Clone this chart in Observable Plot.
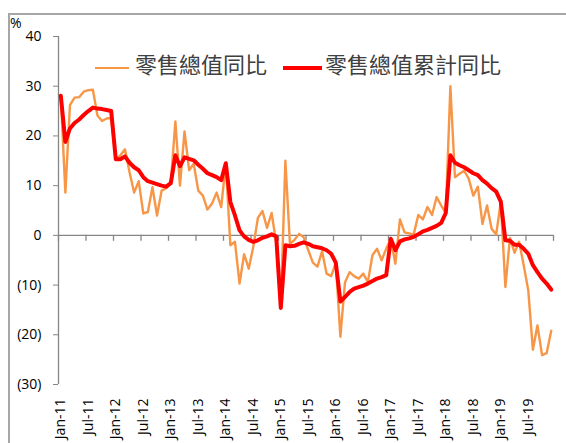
<!DOCTYPE html>
<html>
<head>
<meta charset="utf-8">
<script src="https://cdn.jsdelivr.net/npm/d3@7"></script>
<script src="https://cdn.jsdelivr.net/npm/@observablehq/plot@0.6"></script>
<style>
  html, body { margin: 0; padding: 0; background: #fff; }
  #wrap { position: relative; width: 566px; height: 443px; overflow: hidden; }
  #wrap svg { position: absolute; left: 0; top: 0; }
  .frame { position: absolute; left: 8px; top: 13px; right: -10px; bottom: -10px;
           border-top: 2px solid #a6a6a6; border-left: 2px solid #a6a6a6; pointer-events: none; }
  .unit { position: absolute; left: 10px; top: 13px; font: 14px "Open Sans", sans-serif; color: #000; }
  .leg { position: absolute; font: 22px/22px "Noto Sans CJK TC", sans-serif; color: #404040; white-space: nowrap; }
  .sw { position: absolute; }
</style>
</head>
<body>
<div id="wrap">
  <div class="frame"></div>
  <div class="unit">%</div>
  <div class="sw" style="left:95px;top:67px;width:34px;height:2.4px;background:#F79646"></div>
  <div class="leg" id="leg1" style="left:135px;top:52px"></div>
  <div class="sw" style="left:283px;top:66px;width:39px;height:4px;background:#FF0000"></div>
  <div class="leg" id="leg2" style="left:325px;top:52px"></div>
</div>
<script>
// Series names
const seriesNames = ["零售總值同比", "零售總值累計同比"];

// Categories: monthly, Jan-11 .. Dec-19
const years = ["11","12","13","14","15","16","17","18","19"];
const monthNames = ["Jan","Feb","Mar","Apr","May","Jun","Jul","Aug","Sep","Oct","Nov","Dec"];
const months = years.flatMap(y => monthNames.map(m => `${m}-${y}`));

// Tick labels on x axis
const tickLabels = ["Jan-11","Jul-11","Jan-12","Jul-12","Jan-13","Jul-13","Jan-14","Jul-14",
  "Jan-15","Jul-15","Jan-16","Jul-16","Jan-17","Jul-17","Jan-18","Jul-18","Jan-19","Jul-19"];

// Y ticks
const yTicks = [-30, -20, -10, 0, 10, 20, 30, 40];

// 零售總值同比 (monthly YoY, %)
const retailYoY = [
  28.1, 8.6, 26.2, 27.7, 27.8, 28.9, 29.2, 29.3, 24.1, 23.0, 23.5, 23.6,
  15.3, 16.1, 17.3, 12.7, 8.6, 10.9, 4.4, 4.7, 9.7, 4.0, 9.0, 9.5,
  10.5, 22.9, 10.0, 20.9, 13.1, 14.4, 9.0, 8.0, 5.2, 6.4, 8.6, 5.7,
  14.5, -2.0, -1.3, -9.7, -3.8, -6.7, -2.3, 3.5, 4.9, 1.5, 4.5, -1.5,
  -14.6, 15.0, -1.7, -0.9, 0.3, -0.4, -3.0, -5.5, -6.3, -3.2, -7.7, -8.2,
  -5.5, -20.4, -9.5, -7.4, -8.2, -8.7, -7.7, -9.4, -4.0, -2.7, -5.0, -2.7,
  -0.7, -5.7, 3.2, 0.6, 0.4, 0.2, 4.1, 3.2, 5.7, 4.1, 7.7, 6.0,
  4.5, 30.0, 11.7, 12.4, 13.0, 11.4, 8.0, 9.8, 2.3, 6.0, 1.3, 0.2,
  6.8, -10.4, -0.5, -3.5, -1.3, -6.0, -11.1, -23.0, -18.1, -24.1, -23.7, -19.2
];

// 零售總值累計同比 (year-to-date YoY, %)
const retailYtdYoY = [
  28.1, 18.8, 21.5, 22.6, 23.3, 24.2, 25.0, 25.7, 25.5, 25.4, 25.2, 25.0,
  15.3, 15.3, 15.9, 14.6, 13.7, 13.1, 11.7, 10.9, 10.6, 10.3, 10.0, 9.8,
  10.5, 16.1, 13.9, 15.7, 15.4, 15.1, 14.2, 13.4, 12.5, 12.1, 11.7, 11.1,
  14.5, 6.7, 4.0, 1.0, -0.2, -0.9, -1.3, -1.0, -0.5, -0.2, 0.2, -0.2,
  -14.6, -2.0, -2.2, -2.1, -1.7, -1.4, -1.7, -2.2, -2.4, -2.6, -3.0, -3.7,
  -5.5, -13.3, -12.4, -11.4, -10.7, -10.4, -10.1, -9.7, -9.2, -8.7, -8.4, -8.0,
  -0.7, -3.0, -1.2, -0.8, -0.6, -0.3, 0.2, 0.8, 1.1, 1.5, 1.9, 2.5,
  4.5, 16.1, 14.6, 14.1, 13.7, 13.1, 12.5, 12.1, 11.1, 10.4, 9.5, 8.8,
  6.8, -1.0, -1.1, -1.9, -1.9, -2.7, -3.7, -6.0, -7.4, -8.7, -9.7, -10.9
];

document.getElementById("leg1").textContent = seriesNames[0];
document.getElementById("leg2").textContent = seriesNames[1];

const data = months.map((m, i) => ({ i, m, yoy: retailYoY[i], ytd: retailYtdYoY[i] }));
const n = months.length;
const lo = -0.5, hi = n - 0.5;
const boundaries = d3.range(0, n + 1, 6).map(k => k - 0.5);
const labelIdx = tickLabels.map(l => months.indexOf(l));
const axisGray = "#868686";

const chart = Plot.plot({
  width: 566,
  height: 443,
  marginLeft: 58,
  marginRight: 13,
  marginTop: 36,
  marginBottom: 59,
  x: { type: "linear", domain: [lo, hi], label: null },
  y: { domain: [-30, 40], label: null },
  style: { fontFamily: "'Open Sans', sans-serif", fontSize: "14px", color: "#000", background: "transparent", overflow: "visible" },
  marks: [
    Plot.ruleY([0], { x1: lo, x2: hi, stroke: axisGray, strokeWidth: 1.3 }),
    Plot.ruleX(boundaries, { x: d => d, y1: 0, y2: -1.2, stroke: axisGray, strokeWidth: 1.3 }),
    Plot.ruleX([lo], { y1: -30, y2: 40, stroke: axisGray, strokeWidth: 1.3 }),
    Plot.axisY({ anchor: "left", label: null, ticks: yTicks, tickFormat: d => d < 0 ? `(${-d})` : `${d}`,
      tickSize: 5, tickPadding: 12, stroke: axisGray, fill: "#000" }),
    Plot.axisX({ anchor: "bottom", label: null, ticks: labelIdx, tickFormat: i => months[i],
      tickRotate: -90, tickSize: 0, tickPadding: 14, fill: "#000" }),
    Plot.line(data, { x: "i", y: "yoy", stroke: "#F79646", strokeWidth: 2.4, curve: "linear" }),
    Plot.line(data, { x: "i", y: "ytd", stroke: "#FF0000", strokeWidth: 4, curve: "linear" })
  ]
});
document.getElementById("wrap").prepend(chart);
</script>
</body>
</html>
